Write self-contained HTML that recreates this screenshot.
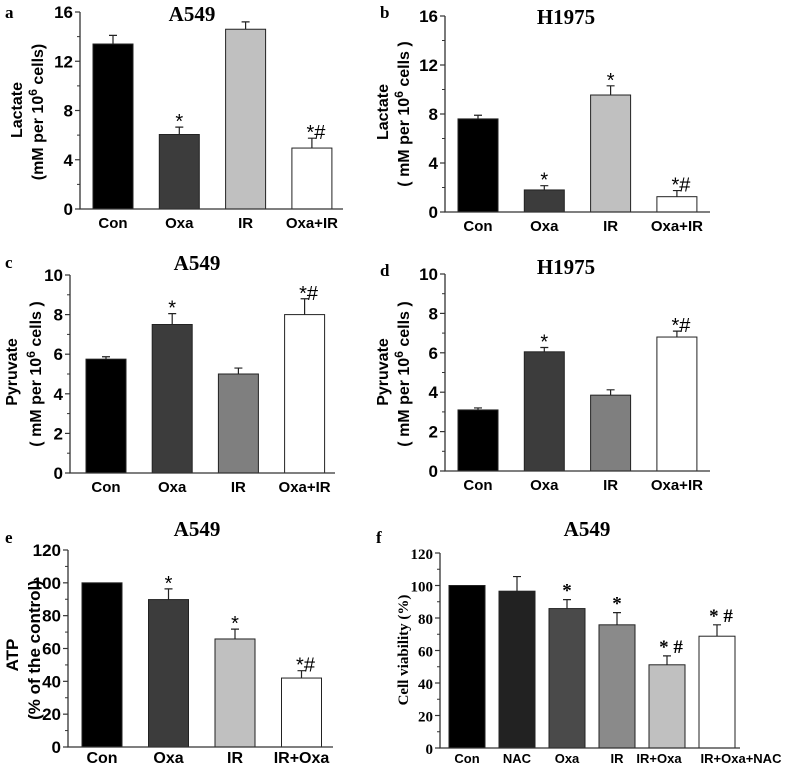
<!DOCTYPE html>
<html><head><meta charset="utf-8"><style>
html,body{margin:0;padding:0;background:#fff;}
svg{display:block;}
text{font-family:"Liberation Sans",sans-serif;}
.ser{font-family:"Liberation Serif",serif;font-weight:bold;}
</style></head><body>
<svg id="fig" width="797" height="765" viewBox="0 0 797 765" xmlns="http://www.w3.org/2000/svg"></svg>
<script>
// Panel a
const aCats=["Con","Oxa","IR","Oxa+IR"];
const aVals=[13.4,6.05,14.6,4.95];
const aErr=[0.7,0.6,0.6,0.8];
const aMarks=["","*","","*#"];
const aTicks=[0,4,8,12,16];
// Panel b
const bCats=["Con","Oxa","IR","Oxa+IR"];
const bVals=[7.6,1.8,9.55,1.25];
const bErr=[0.3,0.35,0.75,0.5];
const bMarks=["","*","*","*#"];
const bTicks=[0,4,8,12,16];
// Panel c
const cCats=["Con","Oxa","IR","Oxa+IR"];
const cVals=[5.75,7.5,5.0,8.0];
const cErr=[0.12,0.55,0.3,0.8];
const cMarks=["","*","","*#"];
const cTicks=[0,2,4,6,8,10];
// Panel d
const dCats=["Con","Oxa","IR","Oxa+IR"];
const dVals=[3.1,6.05,3.85,6.8];
const dErr=[0.1,0.22,0.27,0.3];
const dMarks=["","*","","*#"];
const dTicks=[0,2,4,6,8,10];
// Panel e
const eCats=["Con","Oxa","IR","IR+Oxa"];
const eVals=[100,89.8,65.8,42];
const eErr=[0,6.5,6,4.5];
const eMarks=["","*","*","*#"];
const eTicks=[0,20,40,60,80,100,120];
// Panel f
const fCats=["Con","NAC","Oxa","IR","IR+Oxa","IR+Oxa+NAC"];
const fVals=[100,96.5,85.8,75.8,51.2,68.8];
const fErr=[0,9,5.5,7.5,5.5,7];
const fMarks=["","","*","*","* #","* #"];
const fTicks=[0,20,40,60,80,100,120];

const NS="http://www.w3.org/2000/svg";
const fig=document.getElementById('fig');
function mk(tag,attrs,parent,txt){
  const e=document.createElementNS(NS,tag);
  for(const k in attrs)e.setAttribute(k,attrs[k]);
  if(txt!==undefined)e.textContent=txt;
  (parent||fig).appendChild(e);return e;
}
function panel(p){
  const g=mk('g',{});
  
  
  const maxV=p.ticks[p.ticks.length-1];
  const y=v=>p.y0-(v/maxV)*(p.y0-p.yTop);
  const x=i=>p.firstX+i*p.step;
  const L=mk('text',{x:p.lx,y:p.ly,'font-size':17,class:'ser'},g,p.id);
  
  
  const T=mk('text',{x:p.tx,y:p.ty,'font-size':21,class:'ser','text-anchor':'middle'},g,p.title);
  
  
  p.vals.forEach((v,i)=>{
    const r=mk('rect',{x:x(i),y:y(v),width:p.bw,height:p.y0-y(v),fill:p.colors[i],stroke:'#222','stroke-width':1},g);
    
    
    const cx=x(i)+p.bw/2;
    if(p.err[i]>0){
      const eg=mk('path',{d:`M${cx},${y(v)} V${y(v+p.err[i])} M${cx-4},${y(v+p.err[i])} H${cx+4}`,stroke:'#222','stroke-width':1.2,fill:'none'},g);
      
      
    }
    if(p.marks[i]){
      const m=mk('text',{x:cx+(p.marks[i].length>1?4:0),y:y(v+p.err[i])+(p.serifMarks?-3:1),'font-size':p.serifMarks?19:20,'text-anchor':'middle',class:p.serifMarks?'ser':''},g,p.marks[i]);
      
      
    }
    const off=p.labOff?p.labOff[i]:0;
    const c=mk('text',{x:cx+off,y:p.y0+(p.labDy||19),'font-size':p.catSize||15,'font-weight':'bold','text-anchor':'middle'},g,p.cats[i]);
    
    
  });
  const ax=mk('path',{d:`M${p.ax},${p.yTop} V${p.y0} H${p.axEnd}`,stroke:'#333','stroke-width':1.3,fill:'none'},g);
  
  
  p.ticks.forEach((t,i)=>{
    mk('line',{x1:p.ax-5,x2:p.ax,y1:y(t),y2:y(t),stroke:'#333','stroke-width':1.2},g);
    if(i<p.ticks.length-1){const m=(t+p.ticks[i+1])/2;mk('line',{x1:p.ax-3,x2:p.ax,y1:y(m),y2:y(m),stroke:'#333','stroke-width':1},g);}
    const tl=mk('text',{x:p.ax-7,y:y(t)+6,'font-size':p.tickSize||17,'font-weight':'bold','text-anchor':'end',class:p.serifTicks?'ser':''},g,t);
    
    
  });
  p.ylab.forEach((s,i)=>{
    const yl=mk('text',{transform:`translate(${s.x},${s.y}) rotate(-90)`,'font-size':s.fs||16,'font-weight':'bold','text-anchor':'middle',class:s.serif?'ser':''},g);
    
    
    if(s.sup){
      mk('tspan',{},yl,s.t);
      mk('tspan',{dy:-6,'font-size':12},yl,'6');
      mk('tspan',{dy:6},yl,s.rest);
    } else yl.textContent=s.t;
  });
}
panel({id:'a',title:'A549',lx:5,ly:18,tx:192,ty:21,cats:aCats,vals:aVals,err:aErr,marks:aMarks,ticks:aTicks,
  y0:209,yTop:12,ax:80,axEnd:343,firstX:93,step:66.3,bw:40,colors:['#000','#3c3c3c','#c0c0c0','#fff'],
  ylab:[{x:22,y:110,t:'Lactate'},{x:43,y:112,t:'(mM per 10',sup:1,rest:' cells)'}]});
panel({id:'b',title:'H1975',lx:380,ly:18,tx:566,ty:24,cats:bCats,vals:bVals,err:bErr,marks:bMarks,ticks:bTicks,
  y0:212,yTop:16,ax:445,axEnd:710,firstX:458,step:66.3,bw:40,colors:['#000','#3c3c3c','#c0c0c0','#fff'],
  ylab:[{x:388,y:112,t:'Lactate'},{x:409,y:114,t:'( mM per 10',sup:1,rest:' cells )'}]});
panel({id:'c',title:'A549',lx:5,ly:268,tx:197,ty:270,cats:cCats,vals:cVals,err:cErr,marks:cMarks,ticks:cTicks,
  y0:473,yTop:275,ax:70,axEnd:335,firstX:86,step:66.2,bw:40,colors:['#000','#3c3c3c','#7f7f7f','#fff'],
  ylab:[{x:17,y:372,t:'Pyruvate'},{x:41,y:374,t:'( mM per 10',sup:1,rest:' cells )'}]});
panel({id:'d',title:'H1975',lx:380,ly:276,tx:566,ty:274,cats:dCats,vals:dVals,err:dErr,marks:dMarks,ticks:dTicks,
  y0:471,yTop:274,ax:445,axEnd:710,firstX:458,step:66.3,bw:40,colors:['#000','#3c3c3c','#7f7f7f','#fff'],
  ylab:[{x:388,y:372,t:'Pyruvate'},{x:409,y:374,t:'( mM per 10',sup:1,rest:' cells )'}]});
panel({id:'e',title:'A549',lx:5,ly:543,tx:197,ty:536,cats:eCats,vals:eVals,err:eErr,marks:eMarks,ticks:eTicks,
  y0:747,yTop:550,ax:68,axEnd:333,firstX:82,step:66.5,bw:40,colors:['#000','#3c3c3c','#c0c0c0','#fff'],
  catSize:16,labDy:16,ylab:[{x:18,y:655,t:'ATP',fs:17},{x:40,y:650,t:'(% of the control)',fs:17}]});
panel({id:'f',title:'A549',lx:376,ly:543,tx:587,ty:536,cats:fCats,vals:fVals,err:fErr,marks:fMarks,ticks:fTicks,
  y0:748,yTop:553,ax:440,axEnd:740,firstX:449,step:50,bw:36,colors:['#000','#222','#4a4a4a','#8a8a8a','#c0c0c0','#fff'],
  labOff:[0,0,0,0,-8,24],labDy:15,
  serifTicks:1,serifMarks:1,tickSize:15,catSize:13,ylab:[{x:408,y:650,t:'Cell viability (%)',fs:15,serif:1}]});
</script>
</body></html>
